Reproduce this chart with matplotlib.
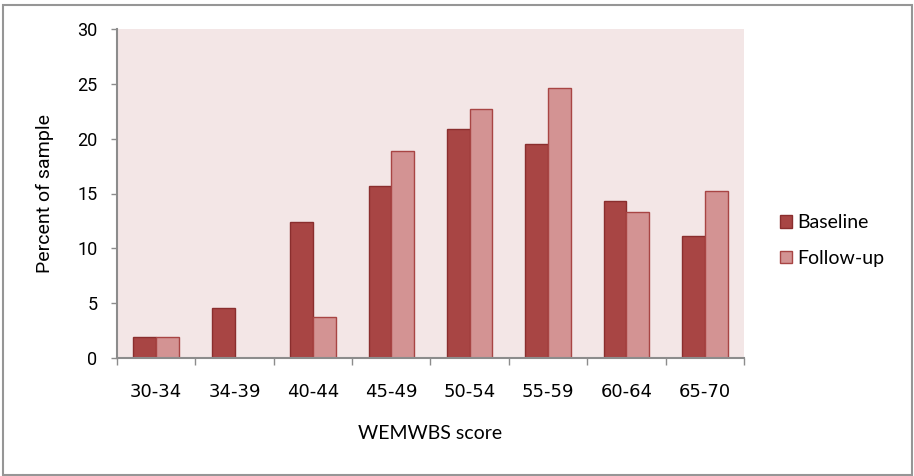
import numpy as np
import matplotlib.pyplot as plt
from matplotlib.patches import Rectangle

categories = ['30-34', '34-39', '40-44', '45-49', '50-54', '55-59', '60-64', '65-70']
baseline = [1.9, 4.6, 12.4, 15.7, 20.9, 19.5, 14.3, 11.1]
followup = [1.9, 0.0, 3.7, 18.9, 22.7, 24.6, 13.3, 15.2]

fig = plt.figure(figsize=(9.14, 4.76), dpi=100)
ax = fig.add_axes([117/914, 1 - 358/476, 627/914, 329/476])

# grey frame round the whole chart
fig.patches.append(Rectangle((3/914, 1/476), 909/914, 470/476, transform=fig.transFigure,
                             fill=False, edgecolor='#969696', linewidth=1.5))

x = np.arange(len(categories))
w = 0.29
ax.bar(x - w/2, baseline, w, color='#A84544', edgecolor='#8A2E2E', linewidth=1, label='Baseline')
ax.bar(x + w/2, followup, w, color='#D39393', edgecolor='#A84544', linewidth=1, label='Follow-up')

ax.set_facecolor('#F3E6E6')
ax.set_xlim(-0.5, len(categories) - 0.5)
ax.set_ylim(0, 30)
ax.set_yticks(range(0, 31, 5))
ax.set_xticks(x)
ax.set_xticklabels(categories)
ax.set_xticks(np.arange(-0.5, len(categories), 1), minor=True)
ax.tick_params(axis='x', which='major', length=0, pad=18, labelsize=13)
ax.tick_params(axis='x', which='minor', length=5, color='#8c8c8c', width=1)
ax.tick_params(axis='y', length=4, color='#8c8c8c', width=1, labelsize=13, pad=10)
for lbl in ax.get_xticklabels():
    lbl.set_family('DejaVu Sans')
for lbl in ax.get_yticklabels():
    lbl.set_family('Roboto')

for s in ['top', 'right']:
    ax.spines[s].set_visible(False)
for s in ['left', 'bottom']:
    ax.spines[s].set_color('#8c8c8c')
    ax.spines[s].set_linewidth(1.5)

ax.set_ylabel('Percent of sample', fontsize=14, family='Roboto')
ax.yaxis.set_label_coords(-0.1005, 0.5)
ax.set_xlabel('WEMWBS score', fontsize=14, family='Lato')
ax.xaxis.set_label_coords(0.5, -0.204)

fig.legend(loc='center left', bbox_to_anchor=(780/914, 1 - 240.5/476), frameon=False,
           prop={'family': 'Lato', 'size': 14}, handlelength=0.62, handleheight=0.62,
           handletextpad=0.26, labelspacing=0.95, borderpad=0, borderaxespad=0)

fig.savefig('out.png', dpi=100)
